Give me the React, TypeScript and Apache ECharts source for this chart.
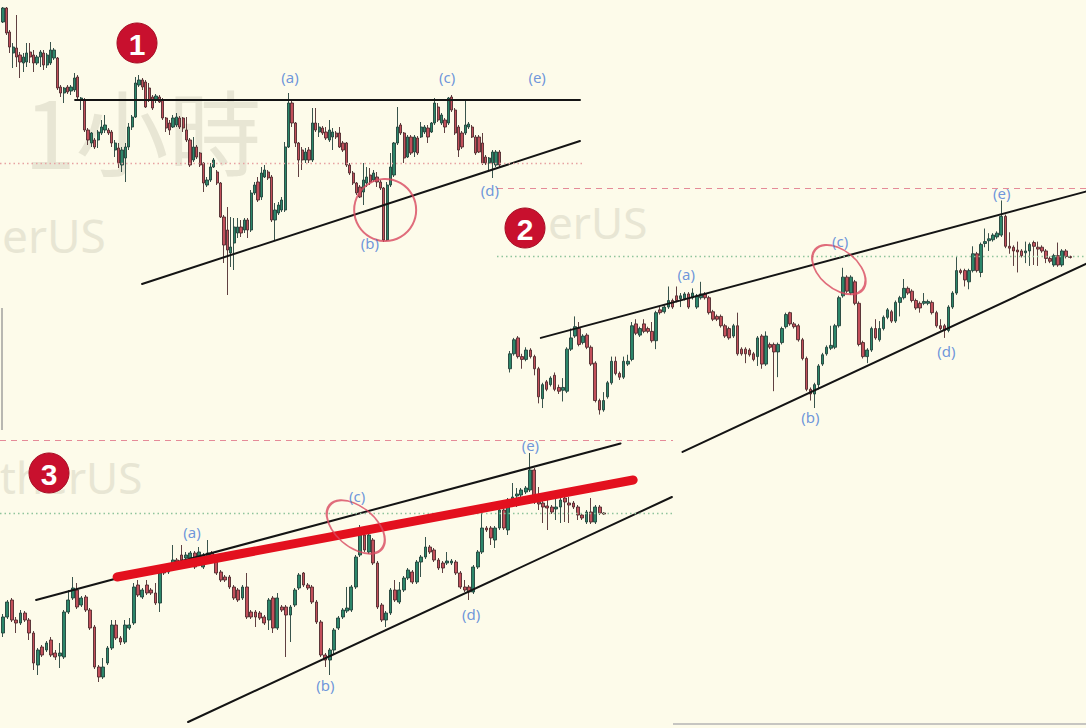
import { useEffect, useRef } from 'react';
import * as echarts from 'echarts';

// Panel 1: hourly chart, price units = chart points, [open, close, low, high]
const hourlyCandles: number[][] = [
  [278, 292, 277, 293], [292, 267, 265, 293], [268, 253, 247, 270], [247, 253, 232, 257], [252, 243, 233, 285],
  [245, 238, 222, 248], [237, 243, 228, 247], [238, 247, 233, 257], [248, 243, 237, 257], [245, 237, 228, 250],
  [237, 243, 235, 245], [243, 248, 233, 250], [247, 235, 230, 250], [235, 245, 232, 247], [237, 250, 235, 258],
  [242, 250, 240, 252], [242, 212, 210, 243], [213, 207, 203, 215], [207, 212, 197, 213], [213, 208, 206, 215],
  [209, 213, 205, 215], [210, 222, 208, 227], [223, 203, 200, 225], [200, 202, 190, 203], [200, 170, 168, 202],
  [170, 160, 155, 172], [157, 167, 153, 168], [160, 153, 151, 162], [160, 168, 152, 170], [167, 173, 165, 180],
  [170, 175, 167, 185], [170, 167, 165, 172], [168, 157, 153, 170], [150, 157, 143, 160], [152, 137, 132, 157],
  [135, 150, 128, 153], [142, 153, 118, 157], [153, 173, 150, 177], [173, 183, 170, 185], [183, 217, 182, 223],
  [215, 220, 213, 225], [220, 213, 210, 222], [218, 193, 192, 220], [212, 200, 198, 217], [203, 192, 190, 205],
  [200, 204, 197, 206], [203, 198, 197, 205], [200, 182, 180, 202], [182, 172, 168, 183], [177, 170, 165, 180],
  [173, 182, 172, 185], [175, 183, 173, 187], [182, 173, 171, 184], [182, 172, 168, 183], [170, 160, 158, 183],
  [160, 135, 133, 162], [140, 153, 138, 163], [153, 143, 141, 155], [147, 135, 133, 148], [137, 117, 108, 138],
  [115, 120, 113, 123], [120, 133, 118, 137], [133, 140, 132, 142], [128, 117, 115, 130], [117, 83, 82, 118],
  [83, 55, 37, 85], [70, 50, 5, 93], [47, 53, 33, 83], [57, 73, 30, 82], [67, 73, 62, 82],
  [73, 67, 63, 80], [70, 80, 67, 82], [80, 70, 62, 82], [70, 107, 68, 110], [107, 115, 105, 118],
  [118, 100, 98, 123], [103, 127, 100, 133], [123, 130, 122, 135], [128, 122, 120, 130], [123, 80, 78, 125],
  [80, 90, 60, 97], [87, 95, 85, 98], [90, 100, 88, 103], [90, 153, 88, 158], [153, 197, 152, 207],
  [197, 177, 173, 200], [177, 157, 153, 178], [157, 140, 123, 158], [150, 140, 130, 153], [140, 148, 137, 152],
  [150, 140, 137, 153], [140, 177, 138, 192], [177, 170, 168, 192], [168, 173, 163, 177], [172, 167, 165, 174],
  [168, 162, 160, 173], [160, 170, 158, 180], [163, 168, 150, 172], [167, 163, 161, 169], [167, 153, 152, 173],
  [157, 150, 148, 159], [157, 135, 133, 158], [135, 127, 125, 137], [127, 117, 115, 129], [117, 107, 105, 118],
  [113, 103, 102, 115], [108, 120, 95, 137], [117, 123, 113, 133], [125, 118, 115, 132], [120, 127, 118, 130],
  [123, 118, 113, 128], [118, 112, 110, 120], [112, 60, 58, 113], [60, 115, 59, 118], [115, 133, 113, 147],
  [125, 157, 123, 158], [157, 173, 155, 193], [175, 167, 165, 177], [167, 142, 137, 168], [143, 163, 142, 165],
  [163, 147, 145, 165], [148, 163, 143, 165], [162, 147, 145, 164], [163, 173, 162, 178], [168, 173, 166, 175],
  [172, 163, 157, 175], [168, 177, 167, 178], [177, 197, 175, 202], [193, 180, 178, 197], [177, 185, 175, 187],
  [180, 173, 167, 182], [177, 202, 175, 203], [203, 190, 188, 205], [190, 167, 165, 192], [173, 150, 143, 175],
  [167, 153, 151, 169], [167, 175, 165, 200], [173, 176, 171, 178], [173, 163, 162, 175], [163, 147, 145, 165],
  [163, 148, 147, 165], [157, 137, 135, 167], [143, 137, 135, 145], [137, 142, 130, 143], [137, 148, 122, 150],
  [135, 148, 133, 150], [148, 135, 133, 150],
];

// Panels 2 and 3 show the same chart at two zoom levels
const channelCandles: number[][] = [
  [67, 83, 63, 86], [83, 98, 81, 100], [100, 80, 78, 102], [80, 77, 67, 83], [77, 87, 75, 90],
  [87, 80, 78, 89], [80, 67, 60, 82], [67, 37, 30, 69], [35, 50, 25, 52], [53, 45, 43, 55],
  [50, 57, 48, 59], [60, 45, 43, 63], [47, 43, 40, 50], [44, 47, 32, 57], [43, 88, 41, 90],
  [88, 100, 86, 110], [102, 112, 100, 123], [110, 93, 91, 117], [95, 102, 93, 104], [103, 90, 88, 105],
  [90, 72, 70, 92], [73, 33, 31, 75], [33, 23, 18, 35], [23, 33, 21, 42], [37, 52, 35, 54],
  [52, 75, 50, 80], [75, 62, 60, 80], [62, 58, 55, 64], [58, 75, 56, 80], [72, 75, 70, 82],
  [77, 113, 75, 117], [115, 105, 103, 120], [103, 110, 101, 112], [115, 107, 105, 120], [110, 107, 105, 112],
  [107, 97, 95, 117], [97, 127, 88, 129], [130, 127, 125, 133], [128, 133, 126, 135], [133, 140, 131, 155],
  [140, 133, 131, 142], [145, 140, 138, 155], [142, 145, 133, 148], [142, 147, 140, 149], [147, 133, 131, 149],
  [143, 148, 141, 153], [133, 145, 131, 147], [143, 147, 141, 160], [147, 143, 141, 149], [143, 127, 125, 145],
  [128, 120, 118, 130], [123, 120, 118, 125], [123, 113, 111, 125], [113, 102, 100, 115], [110, 100, 98, 112],
  [102, 113, 100, 115], [113, 83, 81, 127], [88, 83, 81, 90], [88, 83, 73, 90], [87, 82, 80, 89],
  [83, 77, 75, 85], [80, 100, 70, 102], [102, 72, 67, 104], [72, 102, 70, 107], [93, 90, 88, 95],
  [93, 85, 43, 95], [85, 93, 58, 95], [95, 110, 93, 112], [112, 125, 110, 127], [127, 115, 113, 128],
  [115, 112, 110, 117], [113, 98, 96, 115], [98, 78, 76, 100], [78, 45, 43, 80], [45, 40, 33, 47],
  [40, 50, 25, 52], [50, 70, 45, 72], [72, 82, 70, 84], [83, 90, 81, 92], [89, 92, 87, 113],
  [90, 113, 88, 115], [113, 143, 111, 145], [145, 165, 143, 175], [165, 150, 148, 167], [148, 165, 146, 167],
  [160, 137, 135, 162], [137, 93, 91, 139], [95, 80, 78, 97], [80, 87, 73, 89], [87, 110, 85, 112],
  [110, 100, 98, 120], [98, 110, 96, 118], [110, 122, 108, 124], [122, 130, 120, 132], [128, 118, 116, 130],
  [118, 138, 116, 140], [138, 143, 123, 145], [143, 153, 141, 163], [153, 148, 146, 155], [150, 140, 138, 152],
  [140, 132, 130, 142], [137, 132, 127, 139], [137, 139, 135, 148], [137, 139, 135, 141], [138, 127, 125, 140],
  [127, 113, 111, 129], [113, 110, 108, 120], [113, 108, 100, 115], [108, 133, 106, 135], [133, 148, 131, 150],
  [148, 172, 146, 187], [172, 170, 168, 174], [172, 162, 155, 174], [160, 172, 152, 174], [172, 190, 170, 198],
  [190, 172, 170, 192], [170, 200, 165, 202], [201, 203, 197, 217], [204, 206, 193, 212], [205, 210, 203, 212],
  [208, 212, 206, 214], [210, 230, 208, 247], [230, 198, 196, 232], [198, 196, 190, 213], [197, 193, 177, 199],
  [194, 192, 170, 203], [193, 188, 186, 195], [191, 193, 180, 203], [193, 200, 177, 202], [202, 198, 178, 204],
  [197, 195, 177, 203], [197, 193, 191, 199], [193, 185, 180, 195], [185, 182, 180, 187], [178, 188, 176, 190],
  [188, 178, 176, 202], [178, 193, 176, 195], [193, 187, 185, 195], [187, 186, 185, 188],
];

// Annotation points in [candle index, price]
const hourlyLabels: [string, number, number][] = [
  ['(a)', 84.4, 223], ['(b)', 107.9, 57], ['(c)', 130.6, 223], ['(d)', 143.2, 110], ['(e)', 157.1, 223],
];
const hourlyResistance = [[21.2, 200], [169.7, 200]];
const hourlySupport = [[40.9, 16], [169.7, 159]];
const hourlyLevels = [137];
const hourlyCircle = [112.4, 90];

const channelLabels: [string, number, number][] = [
  ['(a)', 43.4, 168], ['(b)', 74, 15], ['(c)', 81.3, 204], ['(d)', 107.5, 86], ['(e)', 121.1, 255],
];
const channelUpper = [[7.6, 100], [141.8, 256.5]];
const channelLower = [[42.5, -22], [153.6, 203]];
const channelMid = [[26.2, 123], [144.7, 220]];
const channelDashed = [260];
const channelDotted = [187];
const channelEllipse = [81, 173];

const BG = '#fdfbea';
const GREEN = '#2c866a';
const RED = '#c24f5a';
const LABEL_BLUE = '#4a7bd6';
const CIRCLE_RED = '#d8485f';
const WATERMARK = '#e8e6d4';

interface Panel {
  left: number; right: number; top: number; height: number;
  x0: number; dx: number; pMin: number; pMax: number;
}

const P1: Panel = { left: 0, right: 582, top: 0, height: 300, x0: 3, dx: 3.4, pMin: 0, pMax: 300 };
const P2: Panel = { left: 497, right: 1086, top: 183, height: 277, x0: 510, dx: 4.06, pMin: -30.6, pMax: 265.7 };
const P3: Panel = { left: 0, right: 673, top: 435, height: 293, x0: 3, dx: 4.355, pMin: -28, pMax: 265 };

function buildOption() {
  const panels = [P1, P2, P3];
  const counts = [hourlyCandles.length, channelCandles.length, channelCandles.length];
  const grid: any[] = [];
  const xAxis: any[] = [];
  const yAxis: any[] = [];
  panels.forEach((p, i) => {
    const n = counts[i];
    grid.push({ left: p.x0 - p.dx / 2, top: p.top, width: n * p.dx, height: p.height });
    grid.push({ left: p.left, top: p.top, width: p.right - p.left, height: p.height });
    xAxis.push({ type: 'category', gridIndex: 2 * i, data: Array.from({ length: n }, (_, j) => String(j)), show: false });
    xAxis.push({ type: 'value', gridIndex: 2 * i + 1, min: (p.left - p.x0) / p.dx, max: (p.right - p.x0) / p.dx, show: false });
    yAxis.push({ type: 'value', gridIndex: 2 * i, min: p.pMin, max: p.pMax, show: false });
    yAxis.push({ type: 'value', gridIndex: 2 * i + 1, min: p.pMin, max: p.pMax, show: false });
  });

  const candles = (axis: number, data: number[][]) => ({
    type: 'candlestick',
    xAxisIndex: axis,
    yAxisIndex: axis,
    data,
    barWidth: '76%',
    silent: true,
    z: 3,
    itemStyle: { color: GREEN, color0: RED, borderColor: '#22413a', borderColor0: '#4e2a2e', borderWidth: 0.9 },
  });

  const segment = (axis: number, data: number[][], color: string, width: number, z = 4) => ({
    type: 'line',
    xAxisIndex: axis,
    yAxisIndex: axis,
    data,
    symbol: 'none',
    silent: true,
    z,
    lineStyle: { color, width, cap: 'round' },
  });

  const levels = (axis: number, items: any[]) => ({
    type: 'line',
    xAxisIndex: axis,
    yAxisIndex: axis,
    data: [],
    silent: true,
    z: 1,
    markLine: { symbol: 'none', silent: true, label: { show: false }, data: items },
  });

  const labels = (axis: number, list: [string, number, number][]) => ({
    type: 'scatter',
    xAxisIndex: axis,
    yAxisIndex: axis,
    symbolSize: 0,
    silent: true,
    z: 6,
    data: list.map(([name, k, p]) => ({ name, value: [k, p] })),
    label: {
      show: true,
      position: 'inside',
      formatter: '{b}',
      color: LABEL_BLUE,
      fontSize: 15,
      fontFamily: 'Noto Sans',
    },
  });

  const ring = (axis: number, at: number[], size: number[], rotate: number) => ({
    type: 'scatter',
    xAxisIndex: axis,
    yAxisIndex: axis,
    symbol: 'circle',
    symbolSize: size,
    symbolRotate: rotate,
    silent: true,
    z: 5,
    data: [at],
    itemStyle: { color: 'rgba(0,0,0,0)', borderColor: CIRCLE_RED, borderWidth: 2 },
  });

  const dashedRed = { color: '#e58b98', type: [6, 5], width: 1.2 };
  const dottedGreen = { color: '#8fc49c', type: [1.5, 3], width: 1.3 };
  const dottedRed = { color: '#e7a2a2', type: [1.5, 3], width: 1.3 };

  const series: any[] = [
    // panel 1
    levels(1, hourlyLevels.map((v) => ({ yAxis: v, lineStyle: dottedRed }))),
    candles(0, hourlyCandles),
    segment(1, hourlyResistance, '#141414', 2),
    segment(1, hourlySupport, '#141414', 2),
    ring(1, hourlyCircle, [62, 62], 0),
    labels(1, hourlyLabels),
    // panel 2
    levels(3, [
      ...channelDashed.map((v) => ({ yAxis: v, lineStyle: dashedRed })),
      ...channelDotted.map((v) => ({ yAxis: v, lineStyle: dottedGreen })),
    ]),
    candles(2, channelCandles),
    segment(3, channelUpper, '#141414', 2),
    segment(3, channelLower, '#141414', 2),
    ring(3, channelEllipse, [62, 38], -40),
    labels(3, channelLabels),
    // panel 3
    levels(5, [
      ...channelDashed.map((v) => ({ yAxis: v, lineStyle: dashedRed })),
      ...channelDotted.map((v) => ({ yAxis: v, lineStyle: dottedGreen })),
    ]),
    candles(4, channelCandles),
    segment(5, channelUpper, '#141414', 2),
    segment(5, channelLower, '#141414', 2),
    segment(5, channelMid, '#e3101e', 9, 5),
    ring(5, channelEllipse, [68, 40], -40),
    labels(5, channelLabels),
  ];

  const watermark = (text: string, x: number, y: number, size: number, family: string) => ({
    type: 'text',
    z: 0,
    silent: true,
    style: {
      text, x, y,
      fill: WATERMARK,
      fontSize: size,
      fontFamily: family,
      align: 'left', verticalAlign: 'middle',
      textAlign: 'left', textVerticalAlign: 'middle',
    },
  });

  const badge = (num: string, cx: number, cy: number) => ({
    type: 'group',
    z: 20,
    children: [
      { type: 'circle', z: 20, shape: { cx, cy, r: 20 }, style: { fill: '#c8102e', stroke: '#a50e24', lineWidth: 1 } },
      {
        type: 'text', z: 21,
        style: {
          text: num, x: cx, y: cy + 1,
          fill: '#ffffff', fontSize: 30, fontWeight: 'bold', fontFamily: 'Liberation Sans',
          align: 'center', verticalAlign: 'middle',
          textAlign: 'center', textVerticalAlign: 'middle',
        },
      },
    ],
  });

  return {
    animation: false,
    backgroundColor: BG,
    grid,
    xAxis,
    yAxis,
    series,
    graphic: [
      watermark('1小時', 24, 128, 93, 'Noto Sans CJK TC'),
      watermark('erUS', 2, 235, 46, 'Noto Sans'),
      watermark('erUS', 548, 222, 44, 'Noto Sans'),
      watermark('therUS', 0, 477, 44, 'Noto Sans'),
      { type: 'line', z: 1, shape: { x1: 2, y1: 308, x2: 2, y2: 430 }, style: { stroke: '#8a8a8a', lineWidth: 1.2 } },
      { type: 'line', z: 1, shape: { x1: 673, y1: 724, x2: 1086, y2: 724 }, style: { stroke: '#b3b3b3', lineWidth: 1.5 } },
      badge('1', 137, 43),
      badge('2', 525, 228),
      badge('3', 49, 473),
    ],
  };
}

export default function App() {
  const chartRef = useRef<HTMLDivElement>(null);

  useEffect(() => {
    if (!chartRef.current) return;
    const chart = echarts.init(chartRef.current, null, { renderer: 'svg' });
    chart.setOption(buildOption());
    return () => chart.dispose();
  }, []);

  return (
    <div style={{ position: 'fixed', left: 0, top: 0, width: 1086, height: 728, background: BG }}>
      <div ref={chartRef} style={{ width: 1086, height: 728 }} />
    </div>
  );
}
